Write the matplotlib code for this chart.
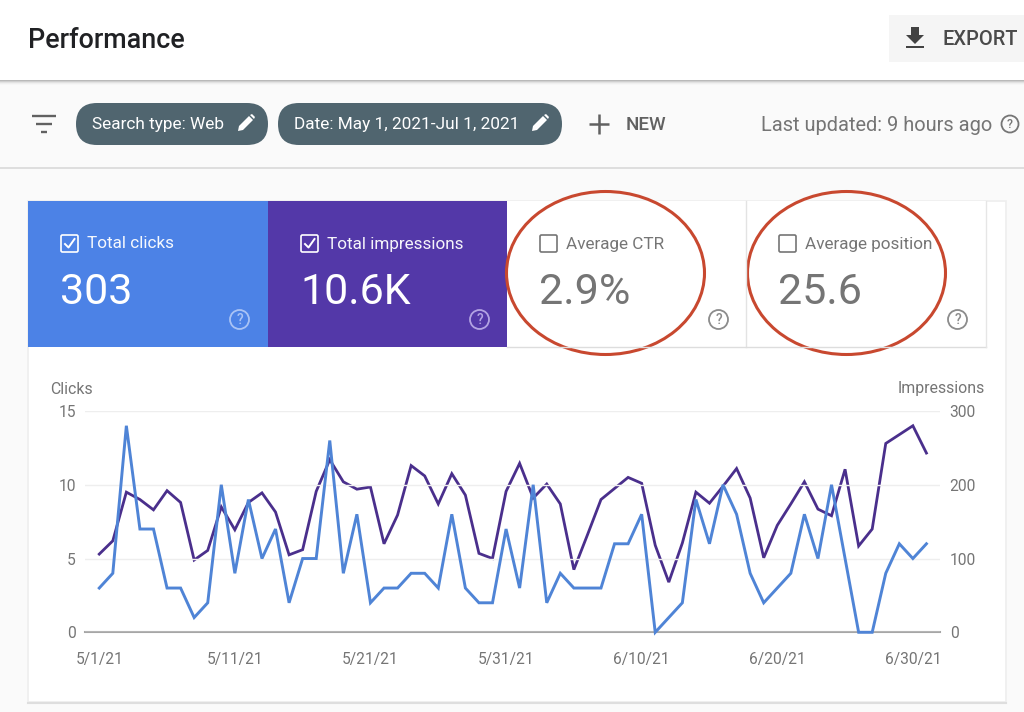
## search console performance card, ui drawn in pixel coords, chart on twin axes
import matplotlib
matplotlib.use('Agg')
import matplotlib.pyplot as plt
import matplotlib.dates as mdates
import pandas as pd
from matplotlib.patches import Rectangle, Ellipse, Circle, FancyBboxPatch, Polygon

plt.rcParams['font.family'] = ['Roboto', 'DejaVu Sans']

clicks = [3, 4, 14, 7, 7, 3, 3, 1, 2, 10, 4, 9, 5, 7, 2, 5, 5, 13, 4, 8,
          2, 3, 3, 4, 4, 3, 8, 3, 2, 2, 7, 3, 10, 2, 4, 3, 3, 3, 6, 6,
          8, 0, 1, 2, 9, 6, 10, 8, 4, 2, 3, 4, 8, 5, 10, 5, 0, 0, 4, 6, 5, 6]
impressions = [106, 124, 190, 180, 166, 192, 176, 98, 111, 170, 139, 176, 189, 163, 105, 112,
               191, 234, 204, 194, 197, 120, 159, 226, 212, 174, 215, 186, 107, 100, 191, 229,
               182, 201, 174, 85, 132, 180, 195, 210, 202, 118, 68, 121, 190, 175, 198, 222,
               182, 101, 145, 174, 204, 167, 158, 221, 117, 140, 256, 268, 280, 243]
days = pd.date_range('2021-05-01', '2021-07-01')

tick_dates = ['2021-05-01', '2021-05-11', '2021-05-21', '2021-05-31', '2021-06-10', '2021-06-20', '2021-06-30']
tick_labels = ['5/1/21', '5/11/21', '5/21/21', '5/31/21', '6/10/21', '6/20/21', '6/30/21']
clicks_ticks = [0, 5, 10, 15]
impressions_ticks = [0, 100, 200, 300]

tile_titles = ['Total clicks', 'Total impressions', 'Average CTR', 'Average position']
tile_values = ['303', '10.6K', '2.9%', '25.6']

BLUE = '#4c82e6'
PURPLE = '#5338a8'
LINE_BLUE = '#4f84d6'
LINE_PURPLE = '#4a2f8c'
GREY = '#757575'
RED = '#c8482f'
CHIP = '#50656f'

fig = plt.figure(figsize=(10.24, 7.12), dpi=100, facecolor='#fafafa')

# background axes in image pixels
bg = fig.add_axes([0, 0, 1, 1])
bg.set_xlim(0, 1024)
bg.set_ylim(712, 0)
bg.axis('off')


def help_icon(cx, cy, r, color):
    bg.add_patch(Circle((cx, cy), r, fill=False, edgecolor=color, linewidth=1.3))
    bg.text(cx, cy + 0.3, '?', color=color, fontsize=r * 1.05, ha='center', va='center', fontweight='medium')


def pencil(cx, cy):
    bg.add_patch(Polygon([(cx - 8, cy + 8), (cx - 7, cy + 3), (cx + 3, cy - 7), (cx + 7, cy - 3), (cx - 3, cy + 7)],
                         closed=True, facecolor='white', edgecolor='none'))
    bg.add_patch(Polygon([(cx + 4, cy - 8), (cx + 6, cy - 9), (cx + 9, cy - 6), (cx + 8, cy - 4)],
                         closed=True, facecolor='white', edgecolor='none'))


def chip(x0, x1, label):
    bg.add_patch(FancyBboxPatch((x0 + 21, 103 + 21), x1 - x0 - 42, 0, boxstyle='round,pad=21',
                                facecolor=CHIP, edgecolor='none'))
    bg.text(x0 + 16, 124.5, label, color='white', fontsize=12.4, va='center', ha='left')
    pencil(x1 - 22, 123)


# header
bg.add_patch(Rectangle((0, 0), 1024, 81, facecolor='white', edgecolor='none'))
for i, c in enumerate(['#b9b9b9', '#cfcfcf', '#e2e2e2', '#efefef', '#f6f6f6']):
    bg.add_patch(Rectangle((0, 80 + i), 1024, 1.2, facecolor=c, edgecolor='none'))
bg.text(28, 40, 'Performance', color='#202124', fontsize=19.4, fontweight='medium', va='center', ha='left')

bg.add_patch(Rectangle((889, 15), 135, 47, facecolor='#f5f5f5', edgecolor='none'))
bg.add_patch(Polygon([(911, 27), (919, 27), (919, 35), (924, 35), (915, 44), (906, 35), (911, 35)],
                     closed=True, facecolor='#424242', edgecolor='none'))
bg.add_patch(Rectangle((906, 46), 18, 2.2, facecolor='#424242', edgecolor='none'))
bg.text(942, 39.5, 'EXPORT', color='#4a4a4a', fontsize=14.4, fontweight='medium', va='center', ha='left')

# filter row
for x0, x1, y in [(32, 56, 116), (36, 52, 124), (41, 47, 132)]:
    bg.plot([x0, x1], [y, y], color='#616161', linewidth=1.7, solid_capstyle='butt')
chip(76, 268, 'Search type: Web')
chip(278, 562, 'Date: May 1, 2021-Jul 1, 2021')
bg.plot([589, 609], [124, 124], color='#616161', linewidth=1.8, solid_capstyle='butt')
bg.plot([599, 599], [114, 134], color='#616161', linewidth=1.8, solid_capstyle='butt')
bg.text(626, 125, 'NEW', color='#616161', fontsize=13.6, fontweight='medium', va='center', ha='left')
bg.text(761, 125.5, 'Last updated: 9 hours ago', color=GREY, fontsize=14.4, va='center', ha='left')
help_icon(1010, 124, 8.5, GREY)
bg.plot([0, 1024], [168, 168], color='#d9d9d9', linewidth=1.2)

# card
bg.add_patch(Rectangle((28, 201), 978, 501, facecolor='white', edgecolor='#eeeeee', linewidth=1.2))
bg.plot([28, 1006], [703, 703], color='#dedede', linewidth=1.5)

# tiles
tile_x = [28, 268, 507, 746]
tile_w = [240, 239, 239, 240]
tile_fill = [BLUE, PURPLE, 'white', 'white']
for i in range(4):
    x = tile_x[i]
    on = i < 2
    fg = 'white' if on else GREY
    bg.add_patch(Rectangle((x, 201), tile_w[i], 146, facecolor=tile_fill[i], edgecolor='none'))
    bg.add_patch(FancyBboxPatch((x + 33, 235), 17, 17, boxstyle='round,pad=0,rounding_size=1.5',
                                fill=False, edgecolor=fg, linewidth=1.2))
    if on:
        bg.plot([x + 37, x + 40.5, x + 46.5], [244, 247.5, 239], color='white', linewidth=1.4)
    bg.text(x + 59, 244, tile_titles[i], color=fg, fontsize=12.3, va='center', ha='left', alpha=0.95 if on else 1)
    bg.text(x + 32, 293, tile_values[i], color=fg, fontsize=31, va='center', ha='left')
    help_icon(x + 211.5, 319.5, 9.5, '#a9c3f5' if i == 0 else '#b3a3e3' if i == 1 else '#8c8c8c')
bg.plot([746, 746], [201, 347], color='#e3e3e3', linewidth=1)
bg.plot([507, 986], [347, 347], color='#dddddd', linewidth=1)
bg.plot([986, 986], [201, 347], color='#e6e6e6', linewidth=1)

# red circles around the two averages
bg.add_patch(Ellipse((605.5, 273), 198, 163, fill=False, edgecolor=RED, linewidth=2.2))
bg.add_patch(Ellipse((846.5, 273), 198, 163, fill=False, edgecolor=RED, linewidth=2.2))

bg.text(50, 389, 'Clicks', color=GREY, fontsize=11.4, va='center', ha='left')
bg.text(985, 389, 'Impressions', color=GREY, fontsize=11.4, va='center', ha='right')

# chart
ax = fig.add_axes([85 / 1024, (712 - 632.3) / 712, 855 / 1024, 221.3 / 712])
ax2 = ax.twinx()
ax.set_zorder(2)
ax2.set_zorder(1)
ax.patch.set_visible(False)
ax2.patch.set_visible(False)

ax2.plot(days, impressions, color=LINE_PURPLE, linewidth=2.0, solid_joinstyle='miter')
ax.plot(days, clicks, color=LINE_BLUE, linewidth=2.1, solid_joinstyle='miter', clip_on=False)

ax.set_xlim(days[0] - pd.Timedelta(days=1.05), days[-1] + pd.Timedelta(days=1))
ax.set_ylim(0, 15)
ax2.set_ylim(0, 300)
ax.set_yticks(clicks_ticks)
ax2.set_yticks(impressions_ticks)
ax.set_xticks(mdates.date2num(pd.to_datetime(tick_dates)))
ax.set_xticklabels(tick_labels)
ax.grid(axis='y', color='#eeeeee', linewidth=1)
ax.set_axisbelow(True)

for a in (ax, ax2):
    for s in ['top', 'left', 'right']:
        a.spines[s].set_visible(False)
    a.spines['bottom'].set_visible(False)
    a.tick_params(length=0, labelcolor=GREY, labelsize=11.2)
ax.tick_params(axis='x', pad=14.5)
ax.tick_params(axis='y', pad=6.5)
ax2.tick_params(axis='y', pad=7)
ax2.axhline(0, color='#a6a6a6', linewidth=1.5, clip_on=False, zorder=0)

fig.savefig('out.png', dpi=100, facecolor=fig.get_facecolor())
